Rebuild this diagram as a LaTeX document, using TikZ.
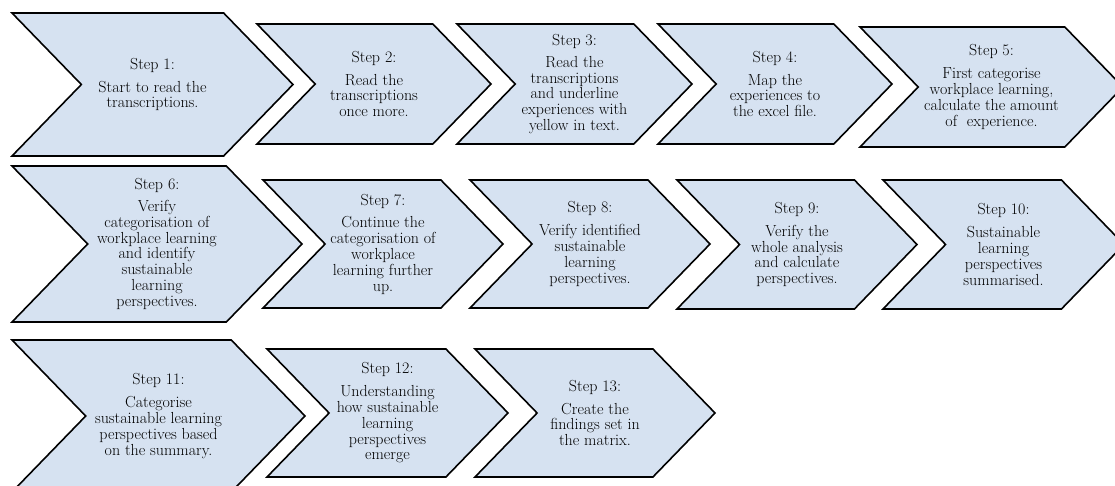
\documentclass[tikz,border=0pt]{standalone}
\definecolor{chevfill}{RGB}{214,226,241}
\tikzset{
  chevron/.style={draw=black, line width=1.6pt, fill=chevfill, line join=miter},
  steptext/.style={align=center, inner sep=0pt, text=black, font=\fontsize{16}{15.8}\selectfont}
}

\begin{document}
\begin{tikzpicture}[x=1pt,y=-1pt]
  \clip (0,0) rectangle (1115,486);
  % chevrons with their texts
  \foreach \xl/\xr/\yt/\yb/\name/\txt in {%
    12/293/13/156/stepA/{Step 1:\\[7pt]Start to read the\\transcriptions.},
    257/491/24/144/stepB/{Step 2:\\[7pt]Read the\\transcriptions\\once more.},
    457/692/24/144/stepC/{Step 3:\\[6pt]Read the\\transcriptions\\and underline\\experiences with\\yellow in text.},
    658/892/24/144/stepD/{Step 4:\\[7pt]Map the\\experiences to\\the excel file.},
    860/1123/27/147/stepE/{Step 5:\\[7pt]First categorise\\workplace learning,\\calculate the amount\\of~ experience.},
    12/302/166/322/stepF/{Step 6:\\[6pt]Verify\\categorisation of\\workplace learning\\and identify\\sustainable\\learning\\perspectives.},
    263/503/180/308/stepG/{Step 7:\\[7pt]Continue the\\categorisation of\\workplace\\learning further\\up.},
    470/710/180/308/stepH/{Step 8:\\[7pt]Verify identified\\sustainable\\learning\\perspectives.},
    677/917/180/309/stepI/{Step 9:\\[7pt]Verify the\\whole analysis\\and calculate\\perspectives.},
    883/1124/180/309/stepJ/{Step 10:\\[7pt]Sustainable\\learning\\perspectives\\summarised.},
    12/305/340/492/stepK/{Step 11:\\[7pt]Categorise\\sustainable learning\\perspectives based\\on the summary.},
    267/508/349/477/stepL/{Step 12:\\[7pt]Understanding\\how sustainable\\learning\\perspectives\\emerge},
    475/715/349/477/stepM/{Step 13:\\[7pt]Create the\\findings set in\\the matrix.}%
  } {%
    \pgfmathsetmacro{\dep}{0.485*(\yb-\yt)}
    \pgfmathsetmacro{\ym}{(\yt+\yb)/2}
    \draw[chevron] (\xl,\yt) -- ({\xr-\dep},\yt) -- (\xr,\ym) -- ({\xr-\dep},\yb)
      -- (\xl,\yb) -- ({\xl+\dep},\ym) -- cycle;
    \node[steptext] (\name) at ({(\xl+\xr)/2},\ym) {\txt};
  };
\end{tikzpicture}
\end{document}
